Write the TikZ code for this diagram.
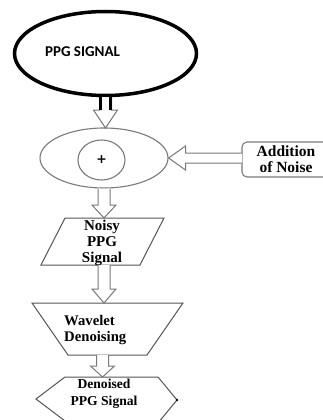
\documentclass[tikz,border=0pt]{standalone}
\usepackage{fontspec}
\setmainfont{Liberation Serif}
\newfontfamily\calfont{Carlito}
\newfontfamily\plusfont{DejaVu Sans}
\usetikzlibrary{shapes.geometric,calc}

\definecolor{linegray}{HTML}{7A7A7A}
\definecolor{boxgray}{HTML}{555555}

\tikzset{
  hollow/.style={draw=linegray, line width=1pt, fill=white, line join=miter},
  stub/.style={draw=black, line width=3.2pt},
  shapeline/.style={draw=boxgray, line width=1pt, line join=miter},
  lbl/.style={font=\bfseries, align=center, inner sep=0pt},
}

% hollow block arrow pointing down: #2 = start on the upper shape, #3 = tip
\newcommand\downhollow[3][14]{%
  \draw[hollow] let \p1=(#2), \p2=(#3) in
    (\x2-6pt,\y1) -- (\x2-6pt,\y2+#1pt) -- (\x2-12pt,\y2+#1pt) -- (\x2,\y2)
    -- (\x2+12pt,\y2+#1pt) -- (\x2+6pt,\y2+#1pt) -- (\x2+6pt,\y1);
}
% hollow block arrow pointing left: #1 = start, #2 = tip
\newcommand\lefthollow[2]{%
  \draw[hollow] let \p1=(#1), \p2=(#2) in
    (\x1,\y2+5pt) -- (\x2+17pt,\y2+5pt) -- (\x2+17pt,\y2+12pt) -- (\x2,\y2)
    -- (\x2+17pt,\y2-12pt) -- (\x2+17pt,\y2-5pt) -- (\x1,\y2-5pt);
}

\begin{document}
\begin{tikzpicture}[x=1pt,y=-1pt]
  \useasboundingbox[fill=white] (0,0) rectangle (323,420);

  % source signal
  \node[draw=black, line width=3.5pt, ellipse, minimum width=182pt,
        minimum height=84pt, inner sep=0pt] (sig) at (105.5,53.5) {};
  \node[font=\calfont\bfseries\fontsize{15}{18}\selectfont, inner sep=0pt]
        (sigtxt) at (82.5,52) {PPG SIGNAL};

  % adder
  \node[draw=linegray, line width=1.1pt, ellipse, minimum width=128pt,
        minimum height=60pt, inner sep=0pt] (mix) at (104,158) {};
  \node[draw=linegray, line width=1.1pt, ellipse, minimum width=47pt,
        minimum height=40pt, inner sep=0pt,
        font=\plusfont\bfseries\fontsize{12.5}{14}\selectfont] (plus) at (101.5,160) {+};

  % noise source: the box runs past the right edge of the page
  \draw[draw=linegray, line width=1.1pt, rounded corners=5pt]
        (242,142) rectangle (345,177);
  \coordinate (noise-w) at (242,160);
  \node[lbl, font=\bfseries\fontsize{15.5}{16}\selectfont] (noise) at (286,159.5)
        {Addition\\of Noise};

  % noisy signal (parallelogram)
  \draw[shapeline] (65,218) -- (164,218) -- (140,265) -- (41,265) -- cycle;
  \coordinate (noisy-in) at (104,218);
  \coordinate (noisy-out) at (104,265);
  \node[lbl, font=\bfseries\fontsize{15}{16}\selectfont] (noisy) at (102,243)
        {Noisy\\PPG\\Signal};

  % wavelet denoising (trapezoid)
  \draw[shapeline] (32,303) -- (183,303) -- (147,355) -- (68,355) -- cycle;
  \coordinate (wav-in) at (104,303);
  \coordinate (wav-out) at (102.5,355);
  \node[lbl, align=left, anchor=west, font=\bfseries\fontsize{14.7}{16}\selectfont]
        (wav) at (64,330) {Wavelet\\Denoising};

  % denoised output (hexagon)
  \draw[shapeline] (36,399) -- (65,377) -- (158,377) -- (177,400) -- (158,423)
        -- (65,421) -- cycle;
  \coordinate (out-in) at (102.5,377);
  \coordinate (out-tip) at (177,400);
  \fill (out-tip) circle (1.4pt);
  \node[lbl, font=\bfseries\fontsize{13.6}{17}\selectfont] (out) at (104,394)
        {Denoised\\PPG Signal};

  % connectors
  \coordinate (mix-top) at (105.5,128);
  \downhollow[18]{sig.south}{mix-top}
  \draw[stub] let \p1=(sig.south), \p2=(mix-top) in
    (\x2-5pt,\y1) -- (\x2-5pt,\y2+18pt) (\x2+5pt,\y1) -- (\x2+5pt,\y2+18pt);
  \lefthollow{noise-w}{mix.east}
  \downhollow[13]{mix.south}{noisy-in}
  \downhollow[14]{noisy-out}{wav-in}
  \downhollow[11]{wav-out}{out-in}
\end{tikzpicture}
\end{document}
